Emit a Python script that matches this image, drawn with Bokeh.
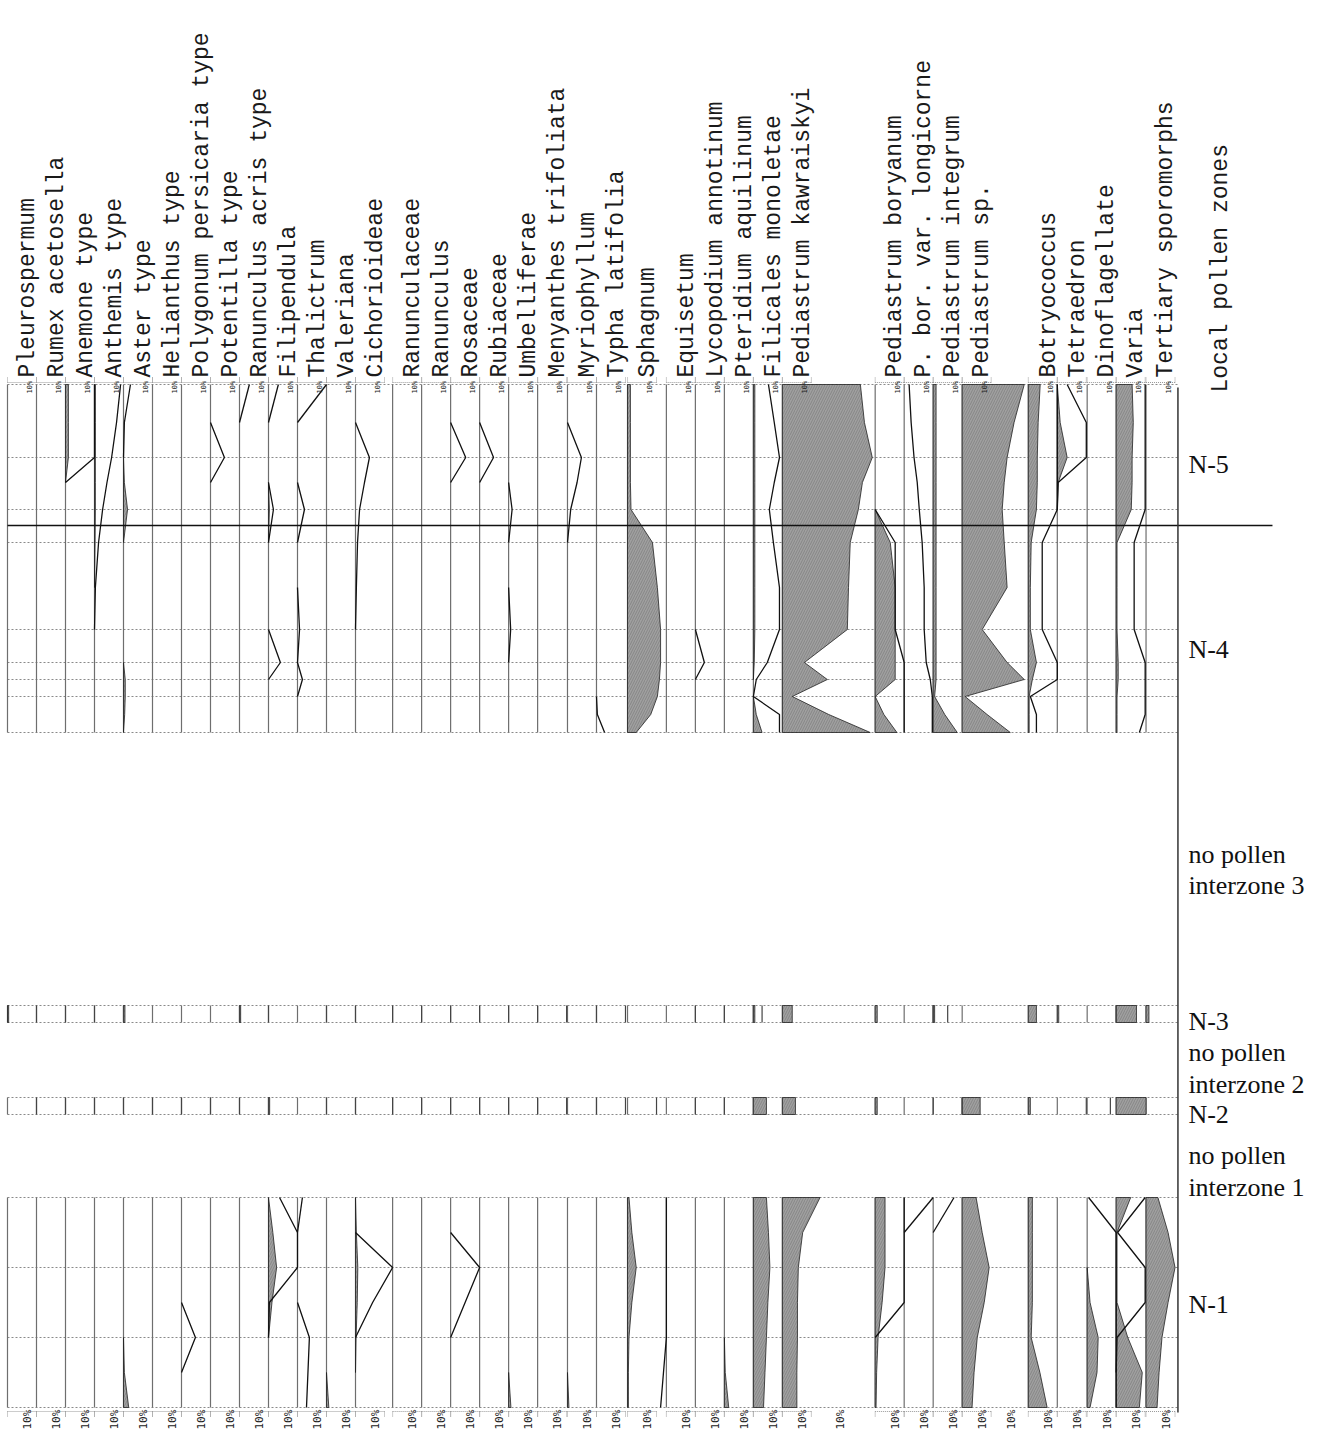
import math
from bokeh.plotting import figure
from bokeh.models import Range1d
from bokeh.embed import file_html
from bokeh.resources import INLINE
from bokeh.core.properties import value

# ---------------- taxa (column order) ----------------
TAXA = ["Pleurospermum", "Rumex acetosella", "Anemone type", "Anthemis type", "Aster type",
        "Helianthus type", "Polygonum persicaria type", "Potentilla type", "Ranunculus acris type",
        "Filipendula", "Thalictrum", "Valeriana", "Cichorioideae", "Ranunculaceae", "Ranunculus",
        "Rosaceae", "Rubiaceae", "Umbelliferae", "Menyanthes trifoliata", "Myriophyllum",
        "Typha latifolia", "Sphagnum", "Equisetum", "Lycopodium annotinum", "Pteridium aquilinum",
        "Filicales monoletae", "Pediastrum kawraiskyi", "Pediastrum boryanum",
        "P. bor. var. longicorne", "Pediastrum integrum", "Pediastrum sp.", "Botryococcus",
        "Tetraedron", "Dinoflagellate", "Varia", "Tertiary sporomorphs"]

# column widths in percent units (layout)
COL_W = [10, 10, 10, 10, 10, 10, 10, 10, 10, 10, 10, 10, 12.8, 10, 10, 10, 10, 10, 10.3, 10,
         10.7, 13.4, 10, 10, 10, 10, 32, 10, 10, 10, 22.8, 10, 10.3, 10, 10.3, 11]

# ---------------- depths (cm) ----------------
TOP_DEPTHS = [200, 219, 236.5, 249, 262.5, 279, 301.5, 322.5, 339, 347.5, 356, 365, 374]
N1_DEPTHS = [606.5, 624, 641.5, 659, 676.5, 694, 711.5]
N3_BAND = [510.5, 519]
N2_BAND = [556.5, 565]
ZONE_BOUNDARY_N5_N4 = 270.5
TOP_LINE_DEPTHS = [200, 236.5, 262.5, 279, 322.5, 339, 347.5, 356, 374]
N1_LINE_DEPTHS = [606.5, 641.5, 676.5, 711.5]

# ---------------- percentages (fill) and x10 exaggeration curves ----------------
anemone_top = [1.0, 1.0, 1.0, 0, 0, 0, 0, 0, 0, 0, 0, 0, 0]
anemone_top_x10 = [10, 10, 10, 0, 0, 0, 0, 0, 0, 0, 0, 0, 0]
anthemis_top = [0.3, 0.3, 0.3, 0.3, 0.3, 0.2, 0, 0, 0, 0, 0, 0, 0]
anthemis_top_x10 = [9.0, 7.6, 5.9, 4.3, 2.8, 1.4, 0.3, 0, 0, 0, 0, 0, 0]
aster_top = [0, 0, 0, 0.3, 1.4, 0, 0, 0, 0, 0.6, 0.6, 0.4, 0]
aster_top_x10 = [2.4, 0.3, 0, 0, 0, 0, 0, 0, 0, 0, 0, 0, 0]
aster_n1 = [0, 0, 0, 0, 0, 0.3, 1.8]
polygonum_n1_x10 = [0, 0, 0, 0, 4.8, 0, 0]
potentilla_top_x10 = [0, 0, 4.8, 0, 0, 0, 0, 0, 0, 0, 0, 0, 0]
ranacris_top_x10 = [3.4, 0, 0, 0, 0, 0, 0, 0, 0, 0, 0, 0, 0]
filipendula_top = [0, 0, 0, 0, 0.3, 0, 0, 0, 0, 0, 0, 0, 0]
filipendula_top_x10 = [3.4, 0, 0, 0, 1.7, 0, 0, 0, 4.1, 0, 0, 0, 0]
filipendula_n1 = [0, 1.5, 2.8, 1.2, 0, 0, 0]
filipendula_n1_x10 = [3.8, 10, 10, 0.3, 0, 0, 0]
thalictrum_top_x10 = [10, 0, 0, 0, 2.4, 0, 0, 0.7, 0, 1.7, 0, 0, 0]
thalictrum_n1_x10 = [1.7, 0, 0, 0, 4.1, 3.6, 3.1]
valeriana_n1 = [0, 0, 0, 0, 0, 0, 0.8]
cichorioideae_top_x10 = [0, 0, 4.8, 3.1, 1.4, 0.7, 0.3, 0, 0, 0, 0, 0, 0]
cichorioideae_n1 = [0, 0.3, 0.8, 0.6, 0.2, 0, 0]
cichorioideae_n1_x10 = [0, 0, 12.8, 5.9, 0, 0, 0]
rosaceae_top_x10 = [0, 0, 5.2, 0, 0, 0, 0, 0, 0, 0, 0, 0, 0]
rosaceae_n1_x10 = [0, 0, 10, 5, 0, 0, 0]
rubiaceae_top_x10 = [0, 0, 4.8, 0, 0, 0, 0, 0, 0, 0, 0, 0, 0]
umbelliferae_top_x10 = [0, 0, 0, 0, 1.2, 0, 0, 0.7, 0, 0, 0, 0, 0]
umbelliferae_n1 = [0, 0, 0, 0, 0, 0, 0.8]
myriophyllum_top_x10 = [0, 0, 4.8, 3.3, 1.1, 0, 0, 0, 0, 0, 0, 0, 0]
myriophyllum_n1 = [0, 0, 0, 0, 0, 0, 0.5]
typha_top_x10 = [0, 0, 0, 0, 0, 0, 0, 0, 0, 0, 0, 0.3, 2.8]
sphagnum_top = [1.0, 1.0, 1.0, 1.0, 1.2, 8.6, 10.3, 11.4, 11.4, 11.0, 10.3, 8.0, 3.0]
sphagnum_n1 = [0.5, 1.5, 3.0, 1.5, 0.5, 0.3, 0.3]
sphagnum_n1_x10 = [13.4, 13.4, 13.4, 13.4, 13.4, 12.4, 11.4]
lycopodium_top_x10 = [0, 0, 0, 0, 0, 0, 0, 0, 3.1, 0, 0, 0, 0]
pteridium_n1 = [0, 0, 0, 0, 0, 0.3, 1.5]
filicales_top = [0.5, 0.5, 0.5, 0.5, 0.5, 0.5, 0.5, 0.5, 0.3, 0, 0, 1.0, 3.0]
filicales_top_x10 = [5.2, 7.2, 9.0, 7.2, 5.5, 6.9, 9.0, 9.0, 4.8, 1.0, 0, 9.0, 9.0]
filicales_n1 = [4.5, 5.2, 5.7, 5.0, 4.5, 4.0, 3.5]
kawraiskyi_top = [26.9, 28.3, 31.0, 27.6, 26.2, 23.4, 22.8, 22.4, 7.6, 15.5, 3.4, 16.0, 30.3]
kawraiskyi_n1 = [13.0, 7.0, 5.5, 5.2, 5.2, 5.0, 5.0]
boryanum_top = [0, 0, 0, 0, 0, 5.2, 6.9, 6.9, 6.9, 6.9, 0, 3.0, 7.5]
boryanum_top_x10 = [0, 0, 0, 0, 0, 6.9, 6.9, 6.9, 10, 10, 10, 10, 10]
boryanum_n1 = [3.4, 3.4, 3.4, 2.4, 1.0, 0.5, 0.3]
boryanum_n1_x10 = [10, 10, 10, 10, 0, 0, 0]
longicorne_top_x10 = [1.7, 2.4, 3.4, 4.5, 5.2, 6.2, 6.9, 6.9, 7.6, 9.0, 9.7, 9.7, 9.7]
longicorne_n1_x10 = [10, 0, 0, 0, 0, 0, 0]
integrum_top = [1.0, 1.0, 1.0, 1.0, 1.0, 1.0, 1.0, 1.0, 1.0, 1.0, 0.5, 4.0, 8.3]
integrum_n1_x10 = [7.2, 0, 0, 0, 0, 0, 0]
pediastrum_sp_top = [21.4, 17.9, 15.5, 14.5, 13.8, 14.5, 15.5, 6.9, 15.5, 21.4, 1.0, 8.6, 16.6]
pediastrum_sp_n1 = [4.8, 6.9, 9.3, 7.6, 5.2, 4.1, 3.4]
botryococcus_top = [4.1, 3.4, 3.1, 3.1, 2.8, 1.0, 0.7, 0.7, 2.8, 1.4, 0.3, 0.3, 0.3]
botryococcus_top_x10 = [10, 10, 10, 10, 10, 4.8, 4.8, 4.8, 10, 10, 0.7, 2.8, 2.8]
botryococcus_n1 = [1.4, 1.4, 1.4, 1.4, 1.0, 4.0, 6.5]
tetraedron_top = [0, 1.0, 3.4, 0.3, 0, 0, 0, 0, 0, 0, 0, 0, 0]
tetraedron_top_x10 = [3.4, 10, 10, 0.3, 0, 0, 0, 0, 0, 0, 0, 0, 0]
dinoflagellate_n1 = [0, 0, 0, 1.0, 3.8, 3.4, 1.0]
dinoflagellate_n1_x10 = [0.5, 10, 10, 10, 10, 10, 10]
varia_top = [5.5, 5.9, 5.5, 5.5, 5.2, 0.3, 0.3, 0.3, 0.7, 0.7, 0.3, 0.3, 0.3]
varia_top_x10 = [10, 10, 10, 10, 10, 6.2, 6.2, 6.2, 10, 10, 10, 10, 8]
varia_n1 = [5.0, 0.3, 0.3, 0.3, 4.0, 9.0, 8.0]
varia_n1_x10 = [10, 0.5, 10, 10, 0.3, 0, 0]
tertiary_n1 = [4.1, 7.6, 10.0, 7.6, 5.5, 4.5, 3.8]

# single-sample zones N-3 and N-2 (one value per taxon, column order)
N3_FILL = [0.4, 0, 0, 0, 0.5, 0, 0, 0, 0.4, 0, 0, 0, 0, 0, 0, 0, 0, 0, 0, 0,
           0, 0, 0, 0, 0, 0.5, 3.4, 0.7, 0, 0.5, 0, 2.8, 0.5, 0, 7.0, 1.0]
N3_X10 = [10, 10, 10, 10, 0, 0, 0, 10, 10, 0, 10, 10, 12.8, 10, 10, 10, 10, 10, 10, 10,
          10, 0, 10, 10, 10, 3, 0, 0, 10, 5, 0, 0, 0, 10, 0, 0]
N2_FILL = [0, 0, 0, 0, 0, 0, 0, 0, 0, 0.4, 0, 0, 0, 0, 0, 0, 0, 0, 0, 0,
           0, 0, 0, 0, 0, 4.5, 4.5, 0.7, 0, 0, 6.2, 0.7, 0, 0, 10.3, 0]
N2_X10 = [10, 10, 10, 10, 10, 10, 10, 10, 10, 0, 10, 10, 12.8, 10, 10, 10, 10, 10, 10, 10,
          10, 10, 10, 10, 10, 0, 0, 0, 10, 10, 0, 0, 10, 8, 0, 0]

# (top fill, top x10, N-1 fill, N-1 x10) per taxon
SERIES = [
    (None, None, None, None),
    (None, None, None, None),
    (anemone_top, anemone_top_x10, None, None),
    (anthemis_top, anthemis_top_x10, None, None),
    (aster_top, aster_top_x10, aster_n1, None),
    (None, None, None, None),
    (None, None, None, polygonum_n1_x10),
    (None, potentilla_top_x10, None, None),
    (None, ranacris_top_x10, None, None),
    (filipendula_top, filipendula_top_x10, filipendula_n1, filipendula_n1_x10),
    (None, thalictrum_top_x10, None, thalictrum_n1_x10),
    (None, None, valeriana_n1, None),
    (None, cichorioideae_top_x10, cichorioideae_n1, cichorioideae_n1_x10),
    (None, None, None, None),
    (None, None, None, None),
    (None, rosaceae_top_x10, None, rosaceae_n1_x10),
    (None, rubiaceae_top_x10, None, None),
    (None, umbelliferae_top_x10, umbelliferae_n1, None),
    (None, None, None, None),
    (None, myriophyllum_top_x10, myriophyllum_n1, None),
    (None, typha_top_x10, None, None),
    (sphagnum_top, None, sphagnum_n1, sphagnum_n1_x10),
    (None, None, None, None),
    (None, lycopodium_top_x10, None, None),
    (None, None, pteridium_n1, None),
    (filicales_top, filicales_top_x10, filicales_n1, None),
    (kawraiskyi_top, None, kawraiskyi_n1, None),
    (boryanum_top, boryanum_top_x10, boryanum_n1, boryanum_n1_x10),
    (None, longicorne_top_x10, None, longicorne_n1_x10),
    (integrum_top, None, None, integrum_n1_x10),
    (pediastrum_sp_top, None, pediastrum_sp_n1, None),
    (botryococcus_top, botryococcus_top_x10, botryococcus_n1, None),
    (tetraedron_top, tetraedron_top_x10, None, None),
    (None, None, dinoflagellate_n1, dinoflagellate_n1_x10),
    (varia_top, varia_top_x10, varia_n1, varia_n1_x10),
    (None, None, tertiary_n1, None),
]

ZONES = [("N-5", 236.5), ("N-4", 329), ("no pollen", 431.5), ("interzone 3", 447),
         ("N-3", 515), ("no pollen", 530.5), ("interzone 2", 546.5), ("N-2", 561.5),
         ("no pollen", 582), ("interzone 1", 598), ("N-1", 656.5)]

# ---------------- layout ----------------
PX = 2.9
BASE = []
acc = 0.0
for w in COL_W:
    BASE.append(acc)
    acc += w
END = acc

x0 = -7 / PX
p = figure(width=1320, height=1433, x_range=Range1d(x0, x0 + 1320 / PX),
           y_range=Range1d(8 + 1433 / 2, 8), output_backend="svg", toolbar_location=None,
           min_border=0, x_axis_type=None, y_axis_type=None)
p.grid.visible = False
p.outline_line_color = None
p.background_fill_color = "white"


def runs(vals, depths):
    out, cur = [], None
    for i in range(len(vals) - 1):
        if vals[i] > 0 or vals[i + 1] > 0:
            if cur is None:
                cur = [i, i + 1]
            else:
                cur.append(i + 1)
        else:
            if cur:
                out.append(cur)
            cur = None
    if cur:
        out.append(cur)
    return [([vals[j] for j in r], [depths[j] for j in r]) for r in out]


# sample lines (dotted)
hx, hy = [], []
for d in TOP_LINE_DEPTHS + N1_LINE_DEPTHS + N3_BAND + N2_BAND:
    hx.append([0, END])
    hy.append([d, d])
p.multi_line(hx, hy, line_color="#8a8a8a", line_width=1, line_dash="2 2")

# baselines
bx, by = [], []
for b in BASE:
    for (d0, d1) in [(TOP_DEPTHS[0], TOP_DEPTHS[-1]), (N1_DEPTHS[0], N1_DEPTHS[-1]),
                     (N3_BAND[0], N3_BAND[1]), (N2_BAND[0], N2_BAND[1])]:
        bx.append([b, b])
        by.append([d0, d1])
p.multi_line(bx, by, line_color="#6e6e6e", line_width=1.2)

# scale bars top and bottom
tx, ty = [], []
for b in BASE:
    for d, dd in [(199, 196.5), (713.5, 716)]:
        tx += [[b, b + 10]]
        ty += [[d, d]]
        tx += [[b, b], [b + 10, b + 10]]
        ty += [[d, dd], [d, dd]]
p.multi_line(tx, ty, line_color="#999999", line_width=1, line_dash="1 1")

# fills and exaggeration curves
fxs, fys, exs, eys = [], [], [], []
for i, (tf, te, nf, ne) in enumerate(SERIES):
    b = BASE[i]
    for vals, deps, kind in [(tf, TOP_DEPTHS, "f"), (te, TOP_DEPTHS, "e"),
                             (nf, N1_DEPTHS, "f"), (ne, N1_DEPTHS, "e")]:
        if vals is None:
            continue
        for rv, rd in runs(vals, deps):
            xs = [b + v for v in rv]
            if kind == "f":
                fxs.append(xs + [b, b])
                fys.append(rd + [rd[-1], rd[0]])
            else:
                exs.append(xs)
                eys.append(rd)

# single-sample zones: fills as blocks, x10 as right-hand side
sx, sy = [], []
for band, fills, x10 in [(N3_BAND, N3_FILL, N3_X10), (N2_BAND, N2_FILL, N2_X10)]:
    for i, b in enumerate(BASE):
        if fills[i] > 0:
            fxs.append([b, b + fills[i], b + fills[i], b])
            fys.append([band[0], band[0], band[1], band[1]])
        if x10[i] > 0:
            sx.append([b + x10[i], b + x10[i]])
            sy.append([band[0], band[1]])

p.patches(fxs, fys, fill_color="#a0a0a0", line_color="#222222", line_width=0.8,
          hatch_pattern="right_diagonal_line", hatch_color="#333333", hatch_alpha=0.3,
          hatch_scale=5, hatch_weight=0.8)
p.multi_line(exs, eys, line_color="#111111", line_width=1.3)
p.multi_line(sx, sy, line_color="#444444", line_width=1.2)

# zone boundary and zone column line
p.line([0, 436.2], [ZONE_BOUNDARY_N5_N4, ZONE_BOUNDARY_N5_N4], line_color="#111111", line_width=1.3)
p.line([END, END], [201.5, 714], line_color="#333333", line_width=1.5)

# taxon labels
LABEL_FONT = value("Liberation Mono")
p.text(x=[b + 7.0 for b in BASE], y=[196.5] * len(BASE), text=TAXA, angle=math.pi / 2,
       text_align="left", text_baseline="alphabetic", text_font=LABEL_FONT,
       text_font_size="23px", text_color="#1a1a1a")
p.text(x=[END + 14.7], y=[204], text=["Local pollen zones"], angle=math.pi / 2,
       text_align="left", text_baseline="alphabetic", text_font=LABEL_FONT,
       text_font_size="23px", text_color="#1a1a1a")
p.text(x=[b + 7.8 for b in BASE], y=[204.5] * len(BASE), text=["10%"] * len(BASE),
       angle=math.pi / 2, text_align="left", text_baseline="middle",
       text_font=value("DejaVu Sans Mono"), text_font_size="7px", text_color="#222222")

# bottom scale labels
blx = [b + 7 for b in BASE] + [BASE[26] + 20, BASE[30] + 17]
p.text(x=blx, y=[722.5] * len(blx), text=["10%"] * len(blx), angle=math.pi / 2,
       text_align="left", text_baseline="middle", text_font=value("DejaVu Sans Mono"),
       text_font_size="11px", text_color="#222222")

# zone labels
p.text(x=[END + 3.6] * len(ZONES), y=[z[1] + 3.5 for z in ZONES], text=[z[0] for z in ZONES],
       text_align="left", text_baseline="middle", text_font=value("Liberation Serif"),
       text_font_size="26px", text_color="#111111")

open("out.html", "w").write(file_html(p, INLINE))
